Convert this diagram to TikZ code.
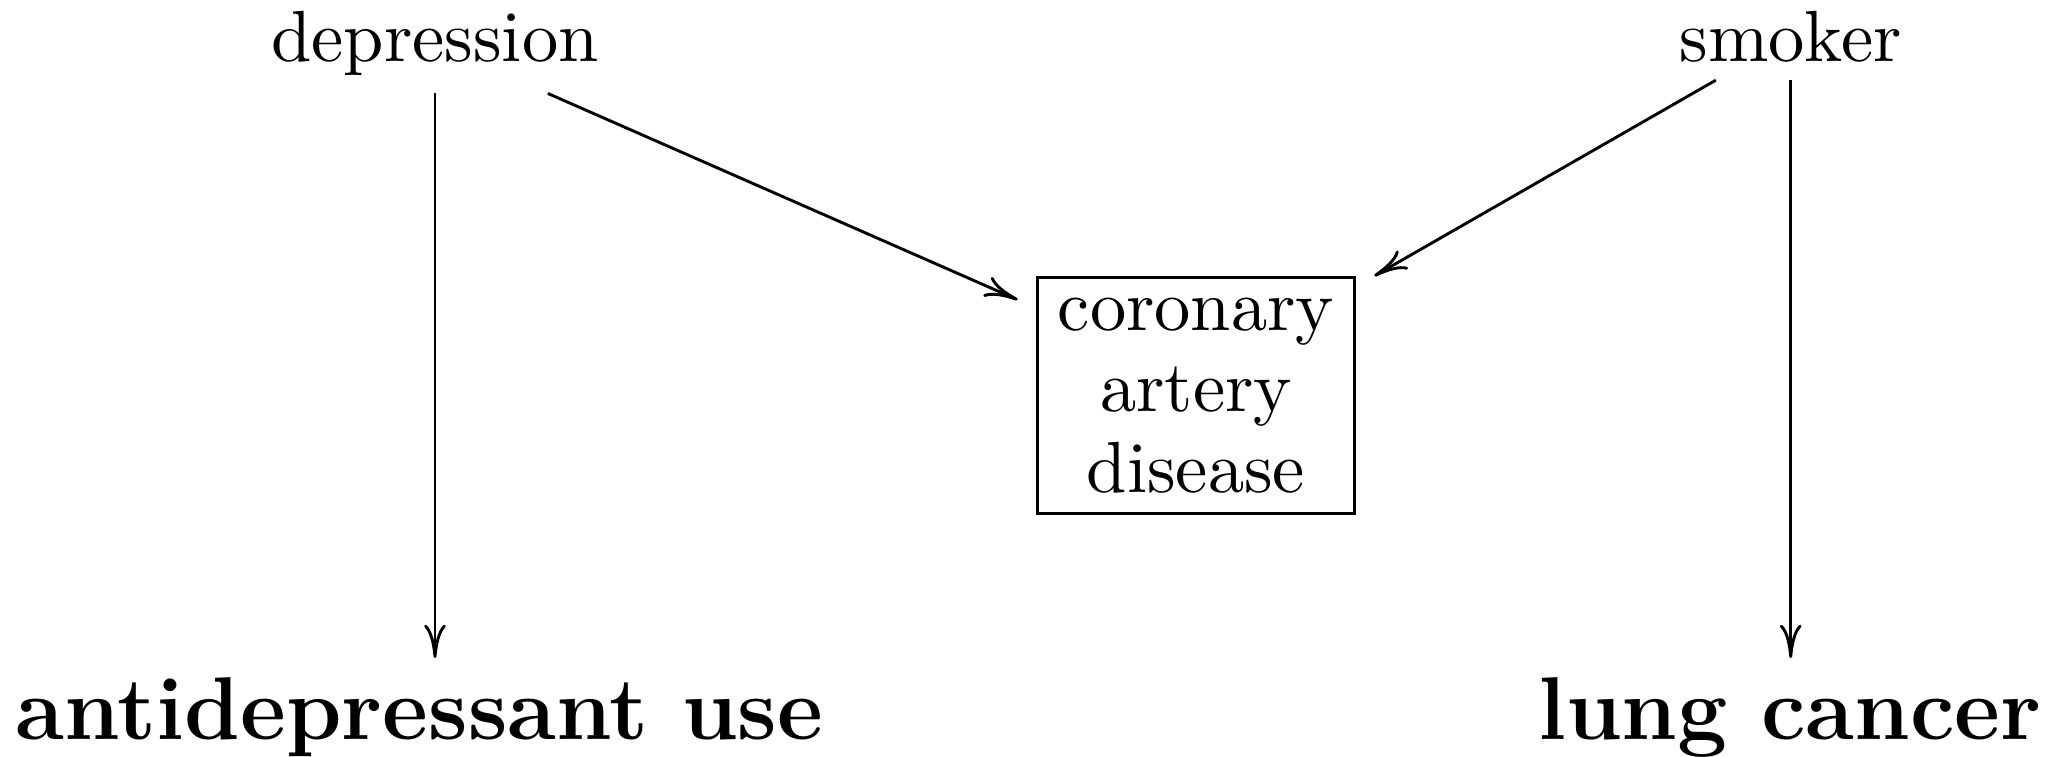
\documentclass[tikz,border=0pt]{standalone}
\usetikzlibrary{arrows.meta}
\begin{document}
\begin{tikzpicture}[
  x=1pt, y=1pt,
  >={Computer Modern Rightarrow[length=4.6pt,width=3pt]},
  var/.style={inner sep=2.2pt, anchor=base, font=\fontsize{10}{12}\selectfont},
  outcome/.style={inner sep=2.5pt, anchor=base, font=\fontsize{12.3}{14.8}\selectfont\bfseries},
  framed/.style={draw, line width=0.4pt, inner sep=2.85pt, align=center,
                 font=\fontsize{10}{11.17}\selectfont},
  cell/.style={inner sep=0pt, minimum width=48.8pt, minimum height=36pt},
  causal/.style={->, line width=0.4pt},
]
\useasboundingbox (0,0) rectangle (284.28,-104.41);

% exposures
\node[var] (dep) at (60.0,-8.55) {depression};
\node[var] (smk) at (247.0,-8.55) {smoker};

% selection variable, boxed, sitting in its own (borderless) cell
\node[framed] (cad) at (164.97,-54.55) {coronary\\artery\\disease};
\node[cell] (cadcell) at (164.97,-52.14) {};

% outcomes
\node[outcome] (adu) at (57.86,-102.0) {antidepressant use};
\node[outcome] (lc) at (246.9,-102.0) {lung cancer};

% arrows
\draw[causal] (dep) -- (dep |- adu.north);
\draw[causal] (smk) -- (smk |- lc.north);
\draw[causal] (dep) -- (cadcell);
\draw[causal] (smk) -- (cadcell);
\end{tikzpicture}
\end{document}
